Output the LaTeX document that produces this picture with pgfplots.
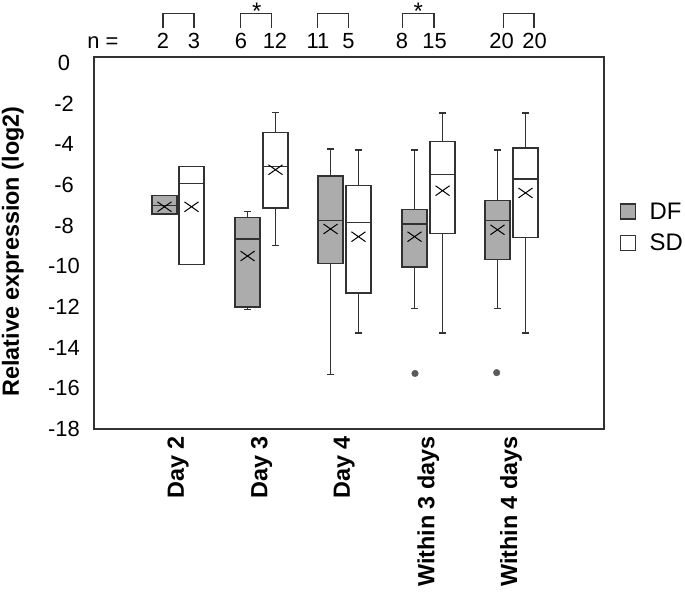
\documentclass[border=0pt]{standalone}
\usepackage{pgfplots}
\pgfplotsset{compat=1.18}
\usepackage{fontspec}
\setmainfont{Liberation Sans}
\definecolor{dfgray}{RGB}{172,172,172}
\definecolor{edge}{RGB}{50,50,50}
\definecolor{outl}{RGB}{90,90,90}
\newcommand{\fs}{\fontsize{22}{25}\selectfont}
\newcommand{\fb}{\bfseries\fontsize{23.5}{26}\selectfont}
\pgfplotsset{
  dfbox/.style={draw=edge, line width=1.3bp, mark=none, fill=dfgray},
  sdbox/.style={draw=edge, line width=1.3bp, mark=none, fill=white},
  ln/.style={draw=edge, line width=1.4bp, mark=none, unbounded coords=jump},
}
\tikzset{
  nlab/.style={anchor=base, font=\fs},
  brk/.style={edge, line width=1.3bp},
}
\begin{document}
\begin{tikzpicture}
\path[use as bounding box] (-94bp,-170bp) rectangle (591bp,429bp);
\begin{axis}[
  at={(0,0)}, anchor=south west,
  scale only axis, width=510bp, height=372bp,
  xmin=0, xmax=6.115, ymin=-18, ymax=0.28,
  clip=false,
  axis line style={draw=edge, line width=1.3bp},
  major tick length=0pt,
  xtick={1.01,2.01,3.0,4.01,5.0},
  xticklabels={Day 2, Day 3, Day 4, Within 3 days, Within 4 days},
  xticklabel style={rotate=90, anchor=east, inner xsep=7bp, inner ysep=0bp, font=\fb},
  ytick={-18,-16,...,0},
  yticklabels={-18,-16,-14,-12,-10,-8,-6,-4,-2,0},
  yticklabel style={anchor=center, xshift=-30bp, font=\fs},
  every axis y label/.style={at={(rel axis cs:-0.159,0.477)}, rotate=90, anchor=center},
  ylabel={Relative expression (log2)},
  ylabel style={font=\fb},
  legend style={at={(rel axis cs:1.031,0.542)}, anchor=west, draw=none, fill=none,
    inner sep=0pt, font=\fontsize{24}{26}\selectfont, row sep=9.5bp, cells={anchor=west}},
  legend image code/.code={\draw[#1] (0bp,-7.5bp) rectangle (15bp,7.5bp); \path[draw=none,fill=none] (0bp,0bp) -- (27bp,0bp);},
]
\addlegendimage{fill=dfgray, draw=edge, line width=1.3bp}
\addlegendentry{DF}
\addlegendimage{fill=white, draw=edge, line width=1.3bp}
\addlegendentry{SD}

% ---- boxes (lower quartile to upper quartile) ----
% Day 2
\addplot[dfbox] coordinates {(0.695,-7.43) (0.995,-7.43) (0.995,-6.54) (0.695,-6.54)} -- cycle;
\addplot[sdbox] coordinates {(1.019,-9.90) (1.319,-9.90) (1.319,-5.09) (1.019,-5.09)} -- cycle;
% Day 3
\addplot[dfbox] coordinates {(1.691,-12.00) (1.991,-12.00) (1.991,-7.60) (1.691,-7.60)} -- cycle;
\addplot[sdbox] coordinates {(2.026,-7.14) (2.326,-7.14) (2.326,-3.42) (2.026,-3.42)} -- cycle;
% Day 4
\addplot[dfbox] coordinates {(2.686,-9.88) (2.986,-9.88) (2.986,-5.57) (2.686,-5.57)} -- cycle;
\addplot[sdbox] coordinates {(3.021,-11.32) (3.321,-11.32) (3.321,-6.03) (3.021,-6.03)} -- cycle;
% Within 3 days
\addplot[dfbox] coordinates {(3.693,-10.04) (3.993,-10.04) (3.993,-7.22) (3.693,-7.22)} -- cycle;
\addplot[sdbox] coordinates {(4.029,-8.39) (4.329,-8.39) (4.329,-3.88) (4.029,-3.88)} -- cycle;
% Within 4 days
\addplot[dfbox] coordinates {(4.688,-9.66) (4.988,-9.66) (4.988,-6.77) (4.688,-6.77)} -- cycle;
\addplot[sdbox] coordinates {(5.024,-8.58) (5.324,-8.58) (5.324,-4.19) (5.024,-4.19)} -- cycle;

% ---- medians, whiskers and caps ----
\addplot[ln] coordinates {(0.695,-7.03) (0.995,-7.03)};
\addplot[ln] coordinates {(1.019,-5.93) (1.319,-5.93)};
\addplot[ln] coordinates {(1.691,-8.67) (1.991,-8.67) (nan,nan)
  (1.841,-7.60) (1.841,-7.30) (nan,nan) (1.796,-7.30) (1.886,-7.30) (nan,nan)
  (1.841,-12.00) (1.841,-12.12) (nan,nan) (1.796,-12.12) (1.886,-12.12)};
\addplot[ln] coordinates {(2.026,-5.09) (2.326,-5.09) (nan,nan)
  (2.176,-3.42) (2.176,-2.46) (nan,nan) (2.131,-2.46) (2.221,-2.46) (nan,nan)
  (2.176,-7.14) (2.176,-8.98) (nan,nan) (2.131,-8.98) (2.221,-8.98)};
\addplot[ln] coordinates {(2.686,-7.76) (2.986,-7.76) (nan,nan)
  (2.836,-5.57) (2.836,-4.24) (nan,nan) (2.791,-4.24) (2.881,-4.24) (nan,nan)
  (2.836,-9.88) (2.836,-15.33) (nan,nan) (2.791,-15.33) (2.881,-15.33)};
\addplot[ln] coordinates {(3.021,-7.85) (3.321,-7.85) (nan,nan)
  (3.171,-6.03) (3.171,-4.29) (nan,nan) (3.126,-4.29) (3.216,-4.29) (nan,nan)
  (3.171,-11.32) (3.171,-13.28) (nan,nan) (3.126,-13.28) (3.216,-13.28)};
\addplot[ln] coordinates {(3.693,-7.93) (3.993,-7.93) (nan,nan)
  (3.843,-7.22) (3.843,-4.29) (nan,nan) (3.798,-4.29) (3.888,-4.29) (nan,nan)
  (3.843,-10.04) (3.843,-12.07) (nan,nan) (3.798,-12.07) (3.888,-12.07)};
\addplot[ln] coordinates {(4.029,-5.50) (4.329,-5.50) (nan,nan)
  (4.179,-3.88) (4.179,-2.47) (nan,nan) (4.134,-2.47) (4.224,-2.47) (nan,nan)
  (4.179,-8.39) (4.179,-13.28) (nan,nan) (4.134,-13.28) (4.224,-13.28)};
\addplot[ln] coordinates {(4.688,-7.76) (4.988,-7.76) (nan,nan)
  (4.838,-6.77) (4.838,-4.29) (nan,nan) (4.793,-4.29) (4.883,-4.29) (nan,nan)
  (4.838,-9.66) (4.838,-12.07) (nan,nan) (4.793,-12.07) (4.883,-12.07)};
\addplot[ln] coordinates {(5.024,-5.72) (5.324,-5.72) (nan,nan)
  (5.174,-4.19) (5.174,-2.47) (nan,nan) (5.129,-2.47) (5.219,-2.47) (nan,nan)
  (5.174,-8.58) (5.174,-13.28) (nan,nan) (5.129,-13.28) (5.219,-13.28)};

% means
\addplot[only marks, mark=x, mark size=9.9bp, mark options={yscale=0.7, line width=1bp, draw=black}] coordinates {
(0.845,-7.08) (1.169,-7.08) (1.841,-9.50) (2.176,-5.26) (2.836,-8.17) (3.171,-8.55)
(3.843,-8.55) (4.179,-6.29) (4.838,-8.21) (5.174,-6.40)};
% outliers
\addplot[only marks, mark=*, mark size=3.3bp, color=outl] coordinates {(3.849,-15.27) (4.828,-15.23)};

% n labels
\node[nlab] at (axis cs:0.108,0.707) {n =};
\node[nlab] at (axis cs:0.827,0.707) {2};
\node[nlab] at (axis cs:1.199,0.707) {3};
\node[nlab] at (axis cs:1.763,0.707) {6};
\node[nlab] at (axis cs:2.170,0.707) {12};
\node[nlab] at (axis cs:2.686,0.707) {11};
\node[nlab] at (axis cs:3.052,0.707) {5};
\node[nlab] at (axis cs:3.693,0.707) {8};
\node[nlab] at (axis cs:4.083,0.707) {15};
\node[nlab] at (axis cs:4.886,0.707) {20};
\node[nlab] at (axis cs:5.282,0.707) {20};
\draw[brk] (axis cs:0.827,1.69) |- (axis cs:1.199,2.427) -- (axis cs:1.199,1.69);
\draw[brk] (axis cs:1.759,1.69) |- (axis cs:2.131,2.427) -- (axis cs:2.131,1.69);
\draw[brk] (axis cs:2.677,1.69) |- (axis cs:3.049,2.427) -- (axis cs:3.049,1.69);
\draw[brk] (axis cs:3.697,1.69) |- (axis cs:4.077,2.427) -- (axis cs:4.077,1.69);
\draw[brk] (axis cs:4.908,1.69) |- (axis cs:5.276,2.427) -- (axis cs:5.276,1.69);
\node[anchor=north, inner sep=0pt, font=\fontsize{24}{26}\selectfont] at (axis cs:1.951,2.934) {*};
\node[anchor=north, inner sep=0pt, font=\fontsize{24}{26}\selectfont] at (axis cs:3.888,2.934) {*};
\end{axis}
\end{tikzpicture}
\end{document}
